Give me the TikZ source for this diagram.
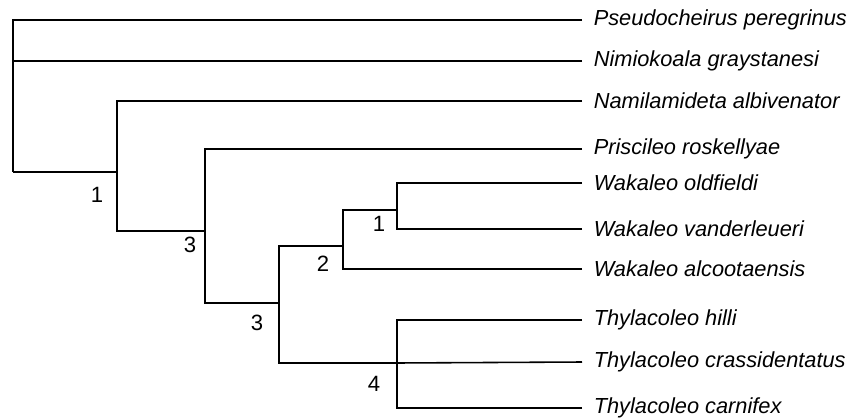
\documentclass[tikz,border=0pt]{standalone}
\usepackage{fontspec}
\setmainfont{Liberation Sans}
\begin{document}
\begin{tikzpicture}[x=0.02cm,y=-0.02cm,line width=.9pt,
  taxon/.style={anchor=mid west,font=\fontsize{12.4}{14}\selectfont\itshape,inner xsep=0.22cm,inner ysep=0pt},
  support/.style={font=\fontsize{12.6}{14}\selectfont,inner sep=0pt}]
\useasboundingbox (0,0) rectangle (850,419);

% taxa
\node[taxon] (pse) at (582,21) {Pseudocheirus peregrinus};
\node[taxon] (nim) at (582,62) {Nimiokoala graystanesi};
\node[taxon] (nam) at (582,104) {Namilamideta albivenator};
\node[taxon] (pri) at (582,150) {Priscileo roskellyae};
\node[taxon] (old) at (582,186) {Wakaleo oldfieldi};
\node[taxon] (van) at (582,232) {Wakaleo vanderleueri};
\node[taxon] (alc) at (582,272) {Wakaleo alcootaensis};
\node[taxon] (hil) at (582,321) {Thylacoleo hilli};
\node[taxon] (cra) at (582,363) {Thylacoleo crassidentatus};
\node[taxon] (car) at (582,409) {Thylacoleo carnifex};

% clades
\coordinate (r) at (13,172);
\coordinate (a) at (117,172);
\coordinate (b) at (205,231);
\coordinate (c) at (279,303);
\coordinate (d) at (343,246);
\coordinate (e) at (397,210);
\coordinate (f) at (397,363);

\draw (pse.west) -| (r);
\draw (nim.west) -| (r);
\draw (r) -- (a);
\draw (nam.west) -| (a);
\draw (a) |- (b);
\draw (pri.west) -| (b);
\draw (b) |- (c);
\draw (c) |- (d);
\draw (c) |- (f);
\draw (alc.west) -| (d);
\draw (d) |- (e);
\draw (old.west) -| (e);
\draw (van.west) -| (e);
\draw (hil.west) -| (f);
\draw (car.west) -| (f);
\draw (cra.west) -- (f);

% support values
\node[support] (sa) at (97,195) {1};
\node[support] (sb) at (190,245) {3};
\node[support] (sc) at (257,323) {3};
\node[support] (sd) at (323,264) {2};
\node[support] (se) at (379,224) {1};
\node[support] (sf) at (374,384) {4};
\end{tikzpicture}
\end{document}
